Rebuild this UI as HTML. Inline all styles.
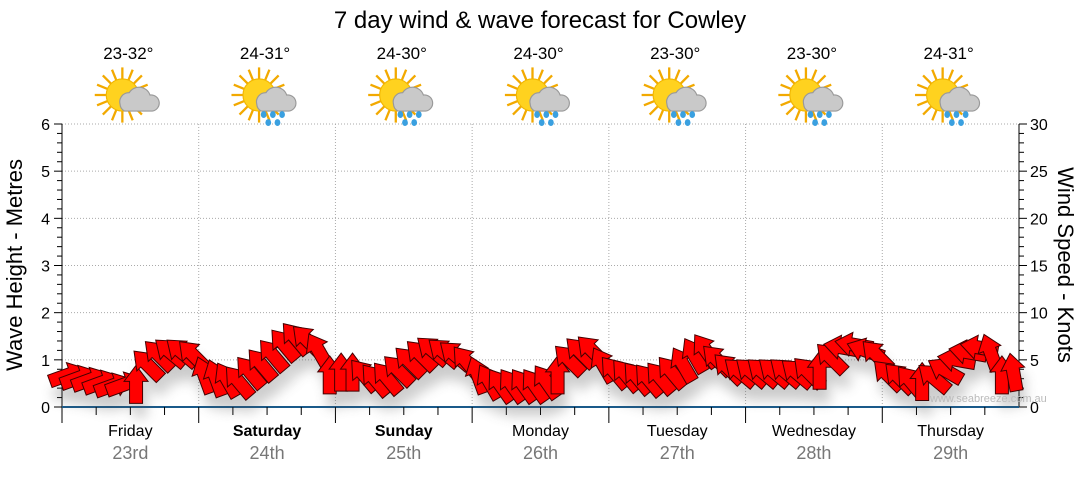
<!DOCTYPE html>
<html><head><meta charset="utf-8"><style>
body{margin:0;background:#fff;width:1080px;height:475px;overflow:hidden;font-family:"Liberation Sans",sans-serif}
</style></head><body>
<svg id="c" width="1080" height="475" xmlns="http://www.w3.org/2000/svg">
<defs>
<filter id="sh" x="-50%" y="-50%" width="200%" height="200%"><feGaussianBlur stdDeviation="6"/></filter>
<g id="sun">
<g stroke="#f2a900" stroke-width="2">
<line x1="0" y1="-24" x2="0" y2="24"/><line x1="-24" y1="0" x2="24" y2="0"/>
<line x1="-17" y1="-17" x2="17" y2="17"/><line x1="-17" y1="17" x2="17" y2="-17"/>
<line x1="-9" y1="-22" x2="9" y2="22"/><line x1="-22" y1="-9" x2="22" y2="9"/>
<line x1="-9" y1="22" x2="9" y2="-22"/><line x1="-22" y1="9" x2="22" y2="-9"/>
</g>
<circle r="14" fill="#ffd21f" stroke="#f2b600"/>
<path d="M-2,8 a8,8 0 0 1 8,-10 a10,10 0 0 1 18,2 a7,7 0 0 1 2,14 h-24 a7,7 0 0 1 -4,-6z" fill="#c9c9c9" stroke="#999"/>
</g>
</defs>
<text x="540" y="28" font-size="24" text-anchor="middle">7 day wind &amp; wave forecast for Cowley</text>
<g id="grid"></g>
<g id="axes"></g>
<g id="shadow" filter="url(#sh)" opacity="0.3"></g>
<g id="arrows"></g>
<text x="930" y="402" font-size="11" fill="#bbb">www.seabreeze.com.au</text>
<text transform="translate(22,265) rotate(-90)" font-size="22" text-anchor="middle">Wave Height - Metres</text>
<text transform="translate(1058,265) rotate(90)" font-size="22" text-anchor="middle">Wind Speed - Knots</text>
</svg>
<script>
const days=["Friday","Saturday","Sunday","Monday","Tuesday","Wednesday","Thursday"];
const dates=["23rd","24th","25th","26th","27th","28th","29th"];
const temps=["23-32°","24-31°","24-30°","24-30°","23-30°","23-30°","24-31°"];
const rain=[false,true,true,true,true,true,true];
const boldDays=[false,true,true,false,false,false,false];
const waveTicks=[0,1,2,3,4,5,6];
const windTicks=[0,5,10,15,20,25,30];
const windSpeed=[
3.4,3.1,2.9,2.6,2.3,2.4,2.4,4.5,5.5,5.8,5.8,5.5,
3.4,3.1,2.9,2.7,3.7,4.5,5.5,6.6,7.3,7.1,6.0,3.4,
3.7,3.7,3.4,2.9,3.1,3.9,4.8,5.5,6.0,5.8,5.5,4.8,
3.4,2.7,2.3,2.3,2.3,2.3,2.7,3.4,5.0,5.8,6.0,4.5,
3.7,3.4,3.1,2.9,3.1,3.7,4.5,5.5,6.0,5.0,4.1,3.7,
3.7,3.7,3.7,3.7,3.6,3.7,3.9,5.2,6.3,6.6,6.0,5.5,
3.4,3.1,2.7,2.7,3.1,3.9,5.0,5.8,6.3,5.8,3.4,3.7];
const windDir=[
70,70,70,70,70,70,0,-45,-45,-50,-50,-45,
-20,-20,-30,-40,-40,-40,-40,-40,-40,-45,-30,0,
0,0,-40,-40,-40,-45,-45,-45,-50,-50,-50,-40,
-20,-30,-35,-35,-35,-35,-35,0,-45,-45,-45,-30,
-40,-40,-40,-40,-40,-40,-30,-30,-35,-45,-45,-50,
-50,-50,-50,-50,-50,-45,0,-45,-80,-80,-70,-45,
-45,-45,-40,0,-50,-60,-80,-80,-80,-20,0,-10];
const X0=62,X1=1019,Y0=407,Y6=124,dayW=(X1-X0)/7,PER=12;
const yW=v=>Y0-(Y0-Y6)*v/6, yK=k=>Y0-(Y0-Y6)*k/30, xT=i=>X0+dayW*(i+0.5)/PER;
const NS="http://www.w3.org/2000/svg";
function mk(p,t,a){const e=document.createElementNS(NS,t);for(const k in a)e.setAttribute(k,a[k]);p.appendChild(e);return e;}
const svg=document.getElementById('c'),grid=document.getElementById('grid'),axes=document.getElementById('axes');
waveTicks.forEach(v=>{if(v>0){const l=mk(grid,'line',{x1:X0,x2:X1,y1:yW(v),y2:yW(v),stroke:'#aaa','stroke-dasharray':'1,2'});

}
const t=mk(axes,'text',{x:50,y:yW(v)+6,'font-size':16,'text-anchor':'end'});t.textContent=v;

});
for(let i=0;i<=30;i++){const y=Y0-(Y0-Y6)*i/30;mk(axes,'line',{x1:i%5?57:54,x2:X0,y1:y,y2:y,stroke:'#000'});mk(axes,'line',{x1:X1,x2:i%5?X1+5:X1+8,y1:y,y2:y,stroke:'#000'});}
windTicks.forEach(k=>{const t=mk(axes,'text',{x:1030,y:yK(k)+6,'font-size':16});t.textContent=k;

});
mk(axes,'line',{x1:X0,x2:X0,y1:Y6,y2:Y0+16,stroke:'#000'});
mk(axes,'line',{x1:X1,x2:X1,y1:Y6,y2:Y0,stroke:'#000'});
mk(axes,'line',{x1:X0,x2:X1,y1:Y0,y2:Y0,stroke:'#1a5a8a','stroke-width':2});
for(let i=0;i<7;i++){
 const xs=X0+dayW*i,xc=xs+dayW/2;
 if(i>0){const l=mk(grid,'line',{x1:xs,x2:xs,y1:Y6,y2:Y0,stroke:'#aaa','stroke-dasharray':'1,2'});
 
 
 mk(axes,'line',{x1:xs,x2:xs,y1:Y0,y2:Y0+16,stroke:'#000'});}
 for(let q=1;q<4;q++)mk(axes,'line',{x1:xs+dayW*q/4,x2:xs+dayW*q/4,y1:Y0,y2:Y0+8,stroke:'#000'});
 const d=mk(svg,'text',{x:xc,y:436,'font-size':16,'text-anchor':'middle','font-weight':boldDays[i]?'bold':'normal'});d.textContent=days[i];
 
 
 const dt=mk(svg,'text',{x:xc,y:459,'font-size':18,'text-anchor':'middle',fill:'#777'});dt.textContent=dates[i];
 
 
 const tp=mk(svg,'text',{x:xc-2,y:59,'font-size':17,'text-anchor':'middle'});tp.textContent=temps[i];
 
 
 const ic=mk(svg,'g',{transform:`translate(${xc-8},${95}) scale(1.15)`});
 
 
 mk(ic,'use',{href:'#sun'});
 if(rain[i])[[4,17],[12,17],[20,17],[8,24],[16,24]].forEach(p=>mk(ic,'ellipse',{cx:p[0],cy:p[1],rx:2.5,ry:3,fill:'#3aa0e0'}));
}
const ag=document.getElementById('arrows'),sg=document.getElementById('shadow');
const shape="M0,-19 L12,-3 L6.5,-3 L6.5,19 L-6.5,19 L-6.5,-3 L-12,-3 Z";
windSpeed.forEach((k,i)=>{
 const x=xT(i),y=yK(k);
 mk(sg,'path',{d:shape,fill:'#555',transform:`translate(${x+4},${y+14}) rotate(${windDir[i]})`});
 const a=mk(ag,'path',{d:shape,fill:'#ff0000',stroke:'#400','stroke-width':1,transform:`translate(${x},${y}) rotate(${windDir[i]})`});
 
 
});
</script>
</body></html>
